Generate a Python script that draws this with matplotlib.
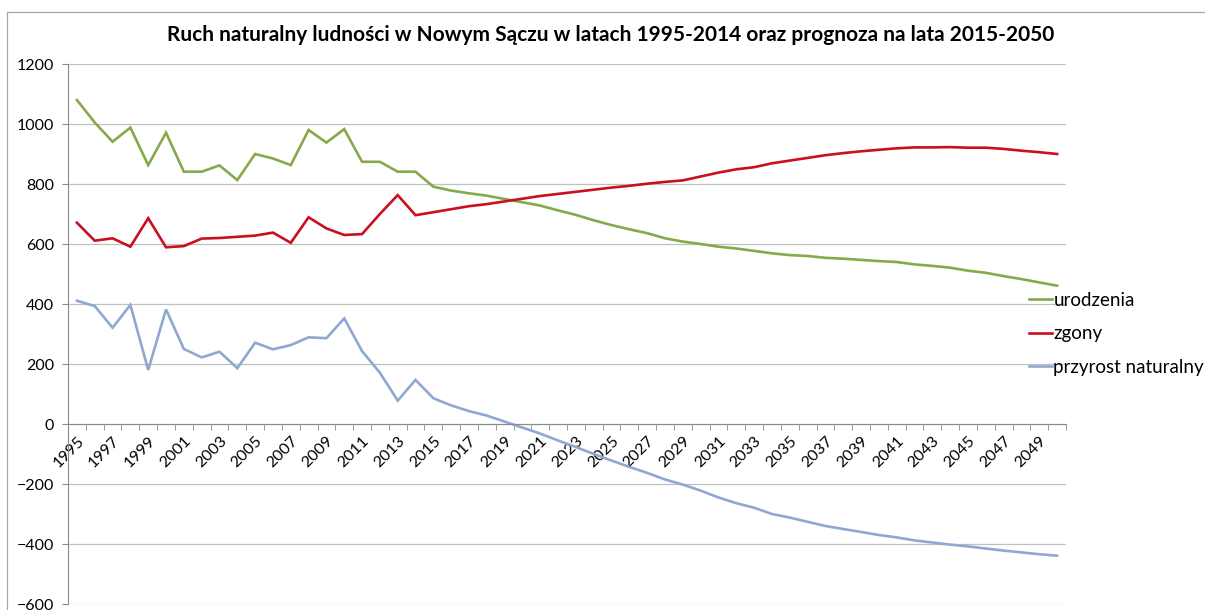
import matplotlib
matplotlib.use('Agg')
import matplotlib.pyplot as plt
import matplotlib.patches as mpatches
import numpy as np

plt.rcParams['font.family'] = ['Lato', 'DejaVu Sans']

years = list(range(1995, 2051))

# urodzenia (births), 1995-2050
births = [1080, 1005, 941, 988, 863, 971, 841, 841, 862, 813,
          900, 885, 863, 980, 938, 983, 874, 874, 841, 841,
          791, 778, 769, 761, 750, 739, 728, 712, 697, 679,
          663, 649, 636, 619, 608, 600, 591, 585, 577, 569,
          563, 560, 554, 551, 547, 543, 540, 532, 527, 521,
          511, 504, 493, 483, 472, 461]

# zgony (deaths), 1995-2050
deaths = [671, 611, 619, 591, 686, 589, 593, 618, 620, 624,
          628, 638, 604, 689, 652, 630, 633, 700, 763, 696,
          706, 716, 726, 733, 742, 751, 760, 767, 774, 781,
          788, 794, 801, 807, 812, 825, 838, 849, 856, 869,
          878, 887, 896, 903, 909, 914, 919, 922, 922, 923,
          921, 921, 917, 911, 906, 900]

# przyrost naturalny (natural growth), 1995-2050
growth = [411, 393, 321, 397, 180, 382, 250, 222, 241, 186,
          271, 249, 263, 289, 286, 352, 243, 171, 78, 147,
          86, 62, 43, 28, 8, -12, -32, -55, -77, -100,
          -122, -143, -163, -185, -202, -222, -245, -264, -279, -300,
          -312, -326, -340, -350, -360, -370, -378, -388, -395, -402,
          -408, -415, -422, -428, -434, -439]

series_labels = ['urodzenia', 'zgony', 'przyrost naturalny']
GREEN, RED, BLUE = '#86A94A', '#C8101E', '#8FA8D2'
AXIS_GRAY = '#8C8C8C'

W, H = 1205, 610
fig = plt.figure(figsize=(W / 100, H / 100), dpi=100)
ax = fig.add_axes([68 / W, (H - 604) / H, (1066 - 68) / W, (604 - 64) / H])

x = np.arange(len(years))
ax.plot(x, births, color=GREEN, linewidth=1.9, label=series_labels[0], solid_joinstyle='miter')
ax.plot(x, deaths, color=RED, linewidth=1.9, label=series_labels[1], solid_joinstyle='miter')
ax.plot(x, growth, color=BLUE, linewidth=1.9, label=series_labels[2], solid_joinstyle='miter')

ax.set_xlim(-0.5, len(years) - 0.5)
ax.set_ylim(-600, 1200)
ax.set_yticks(np.arange(-600, 1201, 200))
ax.yaxis.grid(True, color='#C0C0C0', linewidth=0.9)
ax.set_axisbelow(True)

for s in ['top', 'right']:
    ax.spines[s].set_visible(False)
ax.spines['left'].set_color(AXIS_GRAY)
ax.spines['bottom'].set_color(AXIS_GRAY)
ax.spines['bottom'].set_position(('data', 0))

ax.set_xticks(x[::2])
ax.set_xticklabels([str(y) for y in years[::2]], rotation=45, ha='right',
                   rotation_mode='anchor', fontsize=11.5)
ax.set_xticks(np.arange(0.5, len(years), 1.0), minor=True)
ax.tick_params(axis='x', which='major', length=0, pad=7)
ax.tick_params(axis='x', which='minor', length=4, color=AXIS_GRAY, direction='out')
ax.tick_params(axis='y', length=4, color=AXIS_GRAY, labelsize=11.5, pad=6)

fig.text(611 / W, 1 - 35 / H,
         'Ruch naturalny ludności w Nowym Sączu w latach 1995-2014 oraz prognoza na lata 2015-2050',
         ha='center', va='center', fontsize=15, fontweight='bold')

fig.legend(loc='upper left', bbox_to_anchor=(1029 / W, 1 - 292 / H), frameon=False,
           fontsize=13.5, handlelength=1.2, handletextpad=0.1, labelspacing=0.88,
           borderpad=0, borderaxespad=0)

border = mpatches.Rectangle((7 / W, -0.05), 1.1, (H - 12) / H + 0.05, transform=fig.transFigure,
                            fill=False, edgecolor='#A6A6A6', linewidth=0.9, clip_on=False)
fig.patches.append(border)

fig.savefig('out.png', dpi=100)
